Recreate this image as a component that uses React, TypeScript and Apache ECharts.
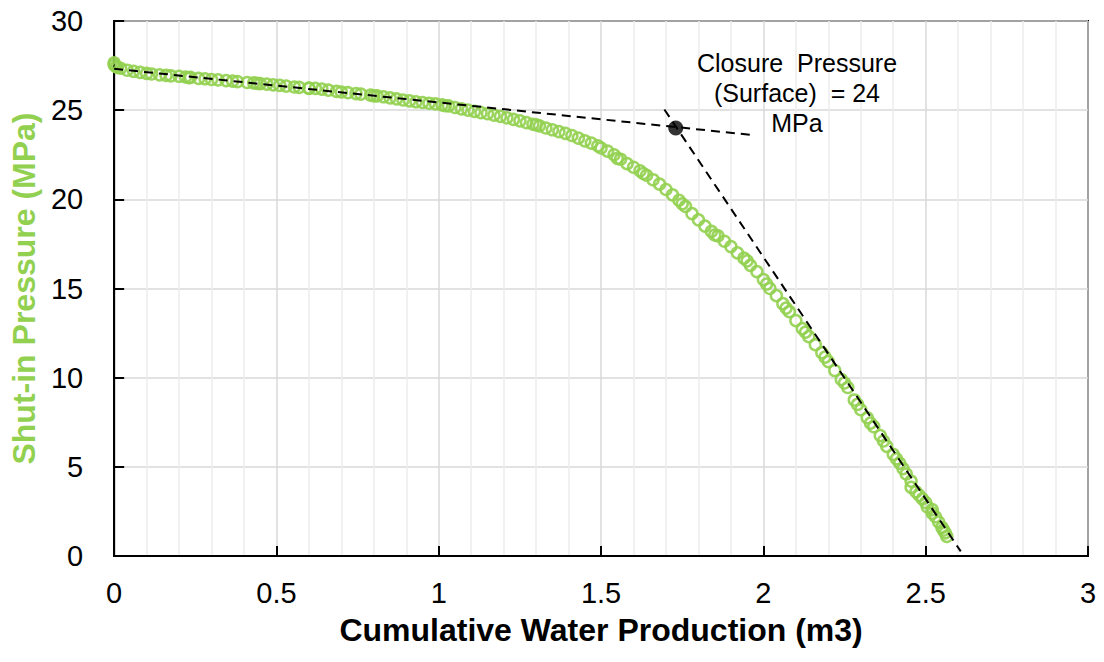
import React, { useEffect, useRef } from "react";
import * as echarts from "echarts";

// Measured data: cumulative water production (m3) vs shut-in pressure (MPa)
const waterProduction: number[] = [
  0, 0, 0.005, 0.02, 0.04, 0.06, 0.08, 0.1, 0.115, 0.14, 0.16, 0.175, 0.2, 0.22, 0.235,
  0.26, 0.28, 0.3, 0.32, 0.345, 0.365, 0.38, 0.41, 0.43, 0.45, 0.47, 0.49, 0.51, 0.53,
  0.555, 0.57, 0.6, 0.62, 0.64, 0.66, 0.685, 0.7, 0.72, 0.745, 0.76, 0.79, 0.81, 0.83,
  0.85, 0.87, 0.89, 0.91, 0.93, 0.95, 0.97, 0.99, 1.01, 1.03, 1.05, 1.07, 1.09, 1.11,
  1.13, 1.15, 1.17, 1.19, 1.21, 1.23, 1.25, 1.27, 1.29, 1.31, 1.33, 1.35, 1.37, 1.39,
  1.41, 1.43, 1.45, 1.47, 1.49, 1.5, 1.52, 1.54, 1.56, 1.58, 1.6, 1.62, 1.64, 1.66,
  1.68, 1.7, 1.72, 1.74, 1.76, 1.78, 1.8, 1.82, 1.84, 1.86, 1.88, 1.9, 1.92, 1.94,
  1.96, 1.98, 2.0, 2.02, 2.04, 2.06, 2.08, 2.1, 2.12, 2.14, 2.16, 2.18, 2.2, 2.22,
  2.24, 2.26, 2.28, 2.3, 2.32, 2.34, 2.36, 2.38, 2.4, 2.42, 2.44, 2.455, 2.455, 2.47,
  2.49, 2.505, 2.52, 2.52, 2.54, 2.55, 2.56, 2.565,
  // overlapping repeat readings (visible as clustered rings)
  0.01, 0.23, 0.44, 0.6, 0.8, 1.02, 1.3, 1.55, 1.63, 1.75, 1.85, 1.95, 2.01, 2.07,
  2.13, 2.19, 2.25, 2.29, 2.33, 2.37, 2.41, 2.43, 2.48, 2.5, 2.53, 2.555,
];
const shutInPressure: number[] = [
  27.65, 27.55, 27.45, 27.35, 27.24, 27.18, 27.12, 27.06, 27.03, 26.98, 26.95, 26.92, 26.9,
  26.86, 26.84, 26.78, 26.76, 26.72, 26.7, 26.66, 26.63, 26.6, 26.55, 26.53, 26.49, 26.46,
  26.42, 26.39, 26.35, 26.3, 26.28, 26.24, 26.22, 26.18, 26.12, 26.05, 26.02, 25.98, 25.93,
  25.9, 25.84, 25.8, 25.75, 25.69, 25.63, 25.57, 25.52, 25.47, 25.43, 25.39, 25.35, 25.3,
  25.24, 25.15, 25.07, 25.0, 24.93, 24.86, 24.8, 24.72, 24.65, 24.57, 24.48, 24.4, 24.3,
  24.21, 24.12, 24.0, 23.9, 23.8, 23.7, 23.58, 23.43, 23.28, 23.15, 23.0, 22.88, 22.7,
  22.5, 22.25, 22.0, 21.8, 21.6, 21.35, 21.1, 20.85, 20.55, 20.25, 19.95, 19.6, 19.2,
  18.85, 18.5, 18.2, 17.95, 17.65, 17.35, 17.0, 16.7, 16.3, 15.95, 15.5, 15.0, 14.6,
  14.15, 13.7, 13.2, 12.75, 12.3, 11.85, 11.4, 10.9, 10.4, 9.9, 9.45, 8.75, 8.2, 7.75,
  7.25, 6.75, 6.15, 5.7, 5.2, 4.6, 4.2, 3.85, 3.6, 3.2, 2.75, 2.6, 2.4, 1.9, 1.6, 1.3, 1.1,
  27.4, 26.82, 26.5, 26.22, 25.8, 25.25, 24.18, 22.3, 21.45, 19.75, 18.0, 16.55, 15.25,
  13.9, 12.55, 11.15, 9.7, 8.5, 7.45, 6.45, 5.45, 4.9, 3.4, 3.0, 2.2, 1.45,
];

// Tangent lines (dashed)
const earlyTrendX: number[] = [0, 1.97];
const earlyTrendY: number[] = [27.32, 23.6];
const lateTrendX: number[] = [1.695, 2.608];
const lateTrendY: number[] = [25.04, 0.26];

// Closure point
const closureX = 1.73;
const closureY = 24.0;
const closureLabel = ["Closure  Pressure", "(Surface)  = 24", "MPa"];

const xTicks = { min: 0, max: 3, interval: 0.5 };
const yTicks = { min: 0, max: 30, interval: 5 };

const GREEN = "#92D050";
const FONT = "'Liberation Sans', Arial, sans-serif";

export default function App() {
  const ref = useRef<HTMLDivElement>(null);

  useEffect(() => {
    if (!ref.current) return;
    const chart = echarts.init(ref.current, undefined, { renderer: "svg" });

    const points = waterProduction.map((x, i) => [x, shutInPressure[i]]);
    const early = earlyTrendX.map((x, i) => [x, earlyTrendY[i]]);
    const late = lateTrendX.map((x, i) => [x, lateTrendY[i]]);

    chart.setOption({
      animation: false,
      backgroundColor: "#ffffff",
      textStyle: { fontFamily: FONT },
      grid: {
        left: 113,
        top: 21,
        width: 975,
        height: 535,
        show: true,
        borderColor: "#000",
        borderWidth: 2,
        backgroundColor: "transparent",
      },
      xAxis: {
        type: "value",
        min: xTicks.min,
        max: xTicks.max,
        interval: xTicks.interval,
        name: "Cumulative Water Production (m3)",
        nameLocation: "middle",
        nameGap: 58,
        nameTextStyle: { fontSize: 32, fontWeight: "bold", color: "#000", fontFamily: FONT },
        axisLine: { show: true, onZero: false, lineStyle: { color: "#000", width: 2 } },
        axisTick: { show: true, inside: true, length: 10, lineStyle: { color: "#000", width: 2 } },
        axisLabel: { fontSize: 29, color: "#000", margin: 22, fontFamily: FONT },
        splitLine: { show: true, lineStyle: { color: "#d9d9d9", width: 1.5 } },
        minorTick: { show: false, splitNumber: 5 },
        minorSplitLine: { show: true, lineStyle: { color: "#ececec", width: 1.5 } },
      },
      yAxis: {
        type: "value",
        min: yTicks.min,
        max: yTicks.max,
        interval: yTicks.interval,
        name: "Shut-in Pressure (MPa)",
        nameLocation: "middle",
        nameGap: 72,
        nameTextStyle: { fontSize: 32, fontWeight: "bold", color: GREEN, fontFamily: FONT },
        axisLine: { show: true, onZero: false, lineStyle: { color: "#000", width: 2 } },
        axisTick: { show: true, inside: true, length: 10, lineStyle: { color: "#000", width: 2 } },
        axisLabel: { fontSize: 29, color: "#000", margin: 31, fontFamily: FONT },
        splitLine: { show: true, lineStyle: { color: "#d9d9d9", width: 1.5 } },
      },
      series: [
        {
          type: "scatter",
          name: "Shut-in Pressure",
          data: points,
          symbol: "circle",
          symbolSize: 11,
          itemStyle: { color: "transparent", borderColor: GREEN, borderWidth: 2.5, opacity: 0.9 },
          z: 2,
        },
        {
          type: "line",
          data: early,
          symbol: "none",
          lineStyle: { color: "#000", width: 2, type: [9, 6] },
          z: 3,
        },
        {
          type: "line",
          data: late,
          symbol: "none",
          lineStyle: { color: "#000", width: 2, type: [9, 6] },
          z: 3,
        },
        {
          type: "scatter",
          data: [[closureX, closureY]],
          symbol: "circle",
          symbolSize: 15,
          itemStyle: { color: "#000" },
          z: 4,
        },
      ],
      graphic: [
        {
          type: "text",
          x: 797,
          y: 48,
          z: 10,
          style: {
            text: closureLabel.join("\n"),
            font: `25px ${FONT}`,
            fill: "#000",
            align: "center",
            verticalAlign: "top",
            lineHeight: 30,
          },
        },
      ],
    });

    return () => chart.dispose();
  }, []);

  return (
    <div
      ref={ref}
      style={{ position: "absolute", left: 0, top: 0, width: 1104, height: 662 }}
    />
  );
}
